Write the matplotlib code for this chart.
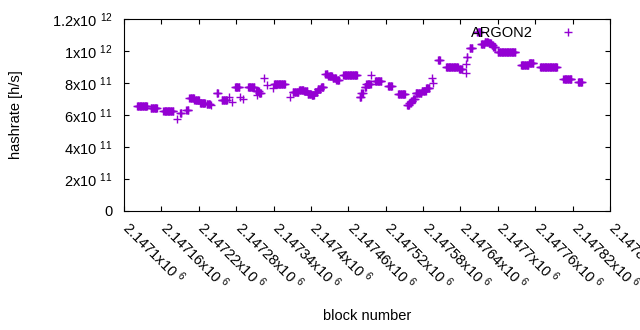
import matplotlib
matplotlib.use("Agg")
import matplotlib.pyplot as plt
import matplotlib.transforms as mtransforms

plt.rcParams["font.family"] = ["Liberation Sans", "DejaVu Sans"]
plt.rcParams["mathtext.fontset"] = "custom"
plt.rcParams["mathtext.rm"] = "Liberation Sans"
plt.rcParams["mathtext.it"] = "Liberation Sans:italic"
plt.rcParams["mathtext.bf"] = "Liberation Sans:bold"

# runs of blocks with the same hashrate (first block, last block, hashrate in 1e11 h/s)
run_first = [
    2147121, 2147143, 2147163, 2147185, 2147190, 2147200, 2147205, 2147213,
    2147222, 2147233, 2147240, 2147249, 2147257, 2147268, 2147273, 2147278,
    2147286, 2147291, 2147299, 2147312, 2147317, 2147314, 2147325, 2147330,
    2147339, 2147341, 2147367, 2147371, 2147381, 2147389, 2147395, 2147401,
    2147406, 2147411, 2147416, 2147423, 2147428, 2147435, 2147441, 2147452,
    2147478, 2147481, 2147486, 2147489, 2147497, 2147503, 2147524, 2147540,
    2147554, 2147558, 2147561, 2147564, 2147568, 2147578, 2147585, 2147594,
    2147596, 2147604, 2147617, 2147638, 2147649, 2147649, 2147650, 2147655,
    2147667, 2147673, 2147679, 2147685, 2147690, 2147693, 2147700, 2147737,
    2147750, 2147768, 2147805, 2147829,
]
run_last = [
    2147137, 2147153, 2147179, 2147185, 2147192, 2147203, 2147212, 2147220,
    2147230, 2147238, 2147240, 2147251, 2147265, 2147268, 2147273, 2147285,
    2147286, 2147291, 2147309, 2147316, 2147320, 2147314, 2147325, 2147330,
    2147339, 2147358, 2147367, 2147380, 2147388, 2147394, 2147400, 2147405,
    2147410, 2147415, 2147420, 2147426, 2147434, 2147440, 2147445, 2147474,
    2147480, 2147483, 2147488, 2147496, 2147497, 2147513, 2147530, 2147551,
    2147557, 2147560, 2147563, 2147567, 2147577, 2147584, 2147590, 2147594,
    2147596, 2147607, 2147636, 2147643, 2147649, 2147649, 2147651, 2147659,
    2147672, 2147678, 2147684, 2147689, 2147692, 2147696, 2147728, 2147749,
    2147757, 2147795, 2147818, 2147835,
]
run_rate = [
    6.54, 6.46, 6.27, 5.77, 6.11, 6.31, 7.08, 6.95,
    6.75, 6.70, 6.63, 7.36, 6.94, 7.14, 6.83, 7.73,
    7.13, 7.00, 7.75, 7.50, 7.38, 7.25, 8.31, 7.88,
    7.69, 7.91, 7.14, 7.44, 7.56, 7.50, 7.31, 7.22,
    7.45, 7.60, 7.75, 8.59, 8.44, 8.30, 8.19, 8.47,
    7.13, 7.38, 7.75, 7.94, 8.50, 8.11, 7.81, 7.29,
    6.63, 6.75, 6.85, 7.00, 7.38, 7.50, 7.69, 8.31,
    8.00, 9.42, 9.00, 8.88, 9.19, 8.63, 9.63, 10.17,
    11.20, 10.44, 10.56, 10.50, 10.38, 10.25, 9.92, 9.13,
    9.22, 8.98, 8.23, 8.04,
]

blocks = []
rates = []
for first, last, rate in zip(run_first, run_last, run_rate):
    for b in range(first, last + 1):
        blocks.append(b)
        rates.append(rate * 1e11)

x_ticks = list(range(2147100, 2147881, 60))
y_ticks = [0, 2e11, 4e11, 6e11, 8e11, 1e12, 1.2e12]
y_labels = ["0", "2x10 $^{11}$", "4x10 $^{11}$", "6x10 $^{11}$", "8x10 $^{11}$",
            "1x10 $^{12}$", "1.2x10 $^{12}$"]

fig = plt.figure(figsize=(6.4, 3.3), dpi=100)
ax = fig.add_axes([124 / 640, 1 - 211 / 330, 486 / 640, 192 / 330])

ax.plot(blocks, rates, linestyle="none", marker="+", markersize=5.3,
        markeredgewidth=1.0, color="#9400d3", label="ARGON2")

ax.set_xlim(2147100, 2147880)
ax.set_ylim(0, 1.2e12)

ax.set_xticks(x_ticks)
ax.set_xticklabels([f"{v / 1e6:g}x10 $^{{6}}$" for v in x_ticks])
ax.set_yticks(y_ticks)
ax.set_yticklabels(y_labels)

ax.tick_params(direction="in", length=3.6, width=0.8, top=True, right=True,
               labelsize=10.5, colors="black")
ax.tick_params(axis="y", pad=8)
ax.tick_params(axis="x", pad=9.5)
shift = mtransforms.ScaledTranslation(2 / 100, 0, fig.dpi_scale_trans)
for lab in ax.get_xticklabels():
    lab.set_rotation(-45)
    lab.set_ha("left")
    lab.set_va("center")
    lab.set_rotation_mode("anchor")
    lab.set_transform(lab.get_transform() + shift)

for spine in ax.spines.values():
    spine.set_linewidth(0.8)

fig.text(16 / 640, 1 - 115 / 330, "hashrate [h/s]", rotation=90,
         ha="center", va="center", fontsize=10.5)
fig.text(367 / 640, 1 - 316 / 330, "block number", ha="center",
         va="center", fontsize=10.5)

ax.legend(loc="upper right", bbox_to_anchor=(0.955, 0.965), frameon=False,
          markerfirst=False, handlelength=2.8, handletextpad=1.0,
          borderpad=0, borderaxespad=0, fontsize=10.5)

fig.savefig("out.png", dpi=100)
